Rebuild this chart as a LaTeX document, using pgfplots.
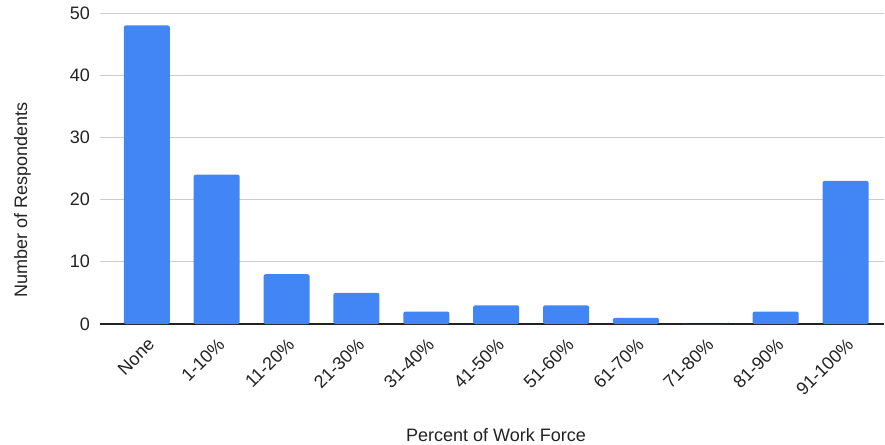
\documentclass[border=0pt]{standalone}
\usepackage{pgfplots}
\pgfplotsset{compat=1.18}
\usepackage{fontspec}
\setmainfont{Liberation Sans}
\definecolor{gblue}{HTML}{4285F4}
\definecolor{ggrid}{HTML}{CCCCCC}
\definecolor{gtext}{HTML}{222222}
\begin{document}
\fontsize{18bp}{21bp}\selectfont
\begin{tikzpicture}
\path[use as bounding box] (-100bp,-121bp) rectangle (785bp,324bp);
\begin{axis}[
  at={(0,0)}, anchor=south west,
  scale only axis, width=784bp, height=311bp,
  xmin=-0.67, xmax=10.55,
  ymin=0, ymax=50,
  ytick={0,10,20,30,40,50},
  xtick={0,...,10},
  xticklabels={None,1-10\%,11-20\%,21-30\%,31-40\%,41-50\%,51-60\%,61-70\%,71-80\%,81-90\%,91-100\%},
  x tick label style={rotate=45, anchor=north east, font=\fontsize{18bp}{21bp}\selectfont, text=gtext, inner sep=1bp, xshift=-8bp, yshift=-8bp},
  y tick label style={font=\fontsize{18bp}{21bp}\selectfont, text=gtext, xshift=-4bp},
  /pgf/number format/assume math mode=true,
  ymajorgrids, grid style={ggrid, line width=0.8bp},
  axis x line*=bottom, axis y line*=left,
  x axis line style={gtext, line width=1.2bp, -},
  y axis line style={draw=none},
  major tick length=0pt,
  xlabel={Percent of Work Force},
  ylabel={Number of Respondents},
  xlabel style={font=\fontsize{18bp}{21bp}\selectfont, text=gtext, at={(axis description cs:0.505,0)}, anchor=center, yshift=-111bp},
  ylabel style={font=\fontsize{18bp}{21bp}\selectfont, text=gtext, at={(axis description cs:-0.099,0.399)}, anchor=center},
  clip=false,
]
\addplot[ybar, bar width=46bp, fill=gblue, draw=none, rounded corners=2bp] coordinates {
(0,48) (1,24) (2,8) (3,5) (4,2) (5,3) (6,3) (7,1) (8,0) (9,2) (10,23)
};
\end{axis}
\end{tikzpicture}
\end{document}
